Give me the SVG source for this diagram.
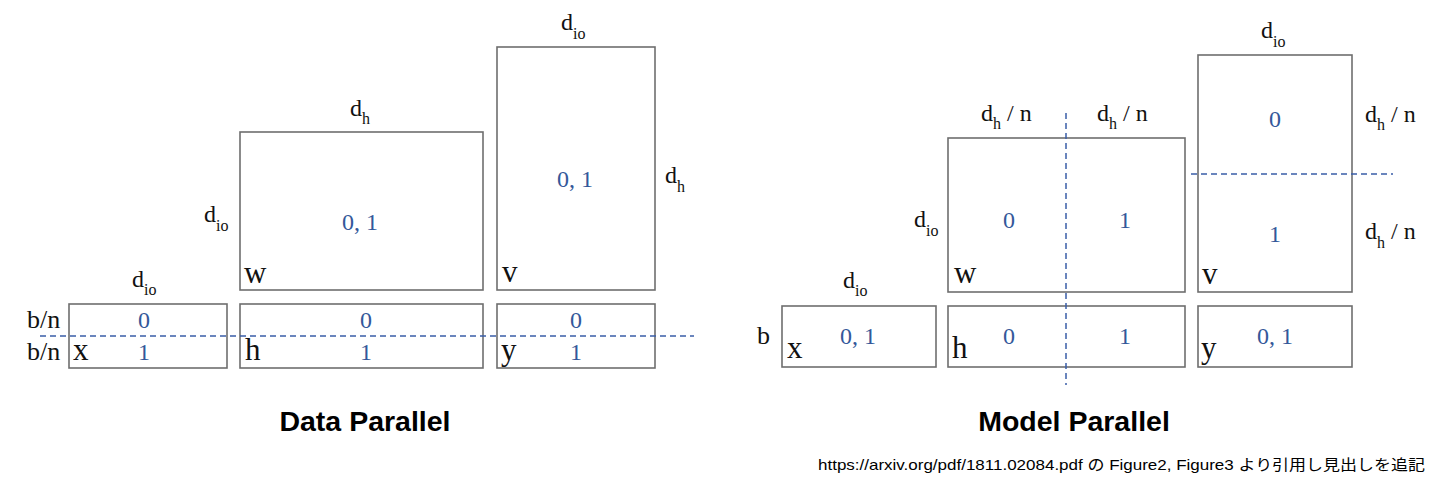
<svg xmlns="http://www.w3.org/2000/svg" width="1442" height="490" viewBox="0 0 1442 490">
<style>
.box{fill:none;stroke:#6e6e6e;stroke-width:1.6}
.dash{fill:none;stroke:#3a5ea8;stroke-width:1.5;stroke-dasharray:6 4}
.m{font-family:"Liberation Serif","Times New Roman",serif;font-size:24px;fill:#111}
.sub{font-size:16px}
.n{font-family:"Liberation Serif","Times New Roman",serif;font-size:24px;fill:#34589a;text-anchor:middle}
.v{font-family:"Liberation Serif","Times New Roman",serif;font-size:31px;fill:#111}
.bn{font-family:"Liberation Serif","Times New Roman",serif;font-size:26px;fill:#111}
.t{font-family:"Liberation Sans",Arial,sans-serif;font-size:28.5px;font-weight:bold;fill:#000;text-anchor:middle}
.f{font-family:"Liberation Sans","Noto Sans CJK JP",sans-serif;font-size:15px;fill:#000}
</style>
<rect width="1442" height="490" fill="#fff"/>

<!-- Data Parallel -->
<g id="dp-x">
<rect class="box" x="69" y="304" width="158" height="64"/>
<text class="n" x="144" y="328">0</text>
<text class="n" x="144" y="360">1</text>
<text class="v" x="73" y="360">x</text>
<text class="m" x="132" y="287">d<tspan class="sub" dy="8">io</tspan></text>
<text class="bn" x="27" y="328">b/n</text>
<text class="bn" x="27" y="360">b/n</text>
</g>
<g id="dp-h">
<rect class="box" x="240" y="304" width="243" height="64"/>
<text class="n" x="366" y="328">0</text>
<text class="n" x="366" y="360">1</text>
<text class="v" x="245" y="360">h</text>
</g>
<g id="dp-y">
<rect class="box" x="497" y="304" width="158" height="64"/>
<text class="n" x="576" y="328">0</text>
<text class="n" x="576" y="360">1</text>
<text class="v" x="501" y="360">y</text>
</g>
<g id="dp-w">
<rect class="box" x="240" y="132" width="243" height="158"/>
<text class="n" x="360" y="230">0, 1</text>
<text class="v" x="244" y="283">w</text>
<text class="m" x="350" y="116">d<tspan class="sub" dy="8">h</tspan></text>
<text class="m" x="204" y="222">d<tspan class="sub" dy="9">io</tspan></text>
</g>
<g id="dp-v">
<rect class="box" x="497" y="47" width="158" height="243"/>
<text class="n" x="575" y="187">0, 1</text>
<text class="v" x="502" y="282">v</text>
<text class="m" x="561" y="30">d<tspan class="sub" dy="9">io</tspan></text>
<text class="m" x="665" y="183">d<tspan class="sub" dy="9">h</tspan></text>
</g>

<!-- Model Parallel -->
<g id="mp-x">
<rect class="box" x="782" y="306" width="154" height="61"/>
<text class="n" x="858" y="344">0, 1</text>
<text class="v" x="787" y="358">x</text>
<text class="m" x="843" y="288">d<tspan class="sub" dy="8">io</tspan></text>
<text class="bn" x="757" y="344">b</text>
</g>
<g id="mp-h">
<rect class="box" x="948" y="306" width="237" height="61"/>
<text class="n" x="1009" y="344">0</text>
<text class="n" x="1125" y="344">1</text>
<text class="v" x="952" y="358">h</text>
</g>
<g id="mp-y">
<rect class="box" x="1198" y="306" width="154" height="61"/>
<text class="n" x="1275" y="344">0, 1</text>
<text class="v" x="1201" y="358">y</text>
</g>
<g id="mp-w">
<rect class="box" x="948" y="138" width="237" height="154"/>
<text class="n" x="1009" y="228">0</text>
<text class="n" x="1125" y="228">1</text>
<text class="v" x="954" y="283">w</text>
<text class="m" x="981" y="121">d<tspan class="sub" dy="8">h</tspan><tspan dy="-8"> / n</tspan></text>
<text class="m" x="1097" y="121">d<tspan class="sub" dy="8">h</tspan><tspan dy="-8"> / n</tspan></text>
<text class="m" x="914" y="227">d<tspan class="sub" dy="9">io</tspan></text>
</g>
<g id="mp-v">
<rect class="box" x="1198" y="55" width="154" height="237"/>
<text class="n" x="1275" y="127">0</text>
<text class="n" x="1275" y="242">1</text>
<text class="v" x="1202" y="284">v</text>
<text class="m" x="1261" y="38">d<tspan class="sub" dy="9">io</tspan></text>
<text class="m" x="1365" y="122">d<tspan class="sub" dy="8">h</tspan><tspan dy="-8"> / n</tspan></text>
<text class="m" x="1365" y="239">d<tspan class="sub" dy="9">h</tspan><tspan dy="-9"> / n</tspan></text>
</g>

<g id="connectors">
<line class="dash" x1="40" y1="336" x2="694" y2="336"/>
<line class="dash" x1="1066" y1="113" x2="1066" y2="385"/>
<line class="dash" x1="1191" y1="174" x2="1393" y2="174"/>
</g>

<g id="titles">
<text class="t" x="365" y="431">Data Parallel</text>
<text class="t" x="1074" y="431">Model Parallel</text>
<text class="f" x="818" y="470" textLength="607" lengthAdjust="spacingAndGlyphs">https://arxiv.org/pdf/1811.02084.pdf の Figure2, Figure3 より引用し見出しを追記</text>
</g>
</svg>
